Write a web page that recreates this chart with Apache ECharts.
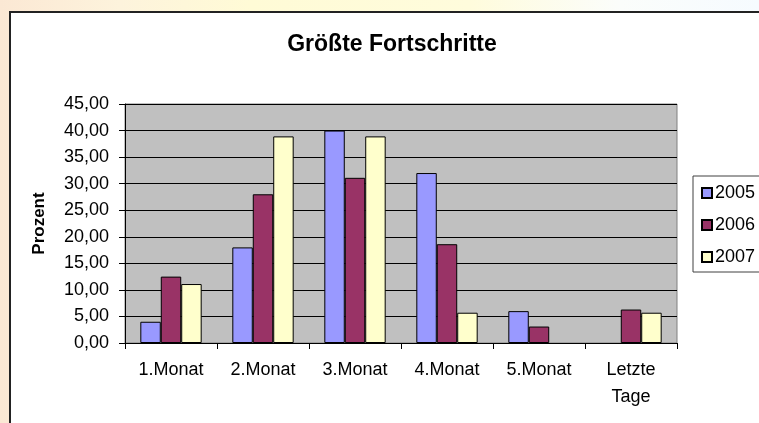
<!DOCTYPE html>
<html>
<head>
<meta charset="utf-8">
<script src="https://cdn.jsdelivr.net/npm/echarts@6/dist/echarts.min.js"></script>
<style>
  html, body { margin: 0; padding: 0; }
  body {
    width: 759px; height: 423px; overflow: hidden; position: relative;
    background: linear-gradient(to right, #fbe8d4 0px, #fdf3dc 120px, #fffbd6 250px, #fffcdc 470px, #fbfdfb 620px, #f6fbff 759px);
  }
  #frame {
    position: absolute; left: 9px; top: 11px; width: 760px; height: 420px;
    background: #fff; border-top: 2px solid #222; border-left: 2px solid #222;
  }
  #chart { position: absolute; left: 0; top: 0; width: 759px; height: 423px; }
</style>
</head>
<body>
<div id="frame"></div>
<div id="chart"></div>
<script>
  // Daten
  const categories = ['1.Monat', '2.Monat', '3.Monat', '4.Monat', '5.Monat', 'Letzte\nTage']
  const years = ['2005', '2006', '2007']
  const values2005 = [4.0, 18.0, 40.0, 32.0, 6.0, null]
  const values2006 = [12.5, 28.0, 31.1, 18.6, 3.1, 6.3]
  const values2007 = [11.1, 38.9, 38.9, 5.7, null, 5.7]
  const yMin = 0, yMax = 45, yStep = 5

  const colors = ['#9999ff', '#993366', '#ffffcc']
  const font = "'Liberation Sans', Arial, sans-serif"

  const chart = echarts.init(document.getElementById('chart'))

  const makeSeries = (name, data, i) => ({
    name: name,
    type: 'bar',
    data: data,
    barGap: '0%',
    barCategoryGap: '33.3%',
    itemStyle: { color: colors[i], borderColor: '#000', borderWidth: 1 },
    emphasis: { disabled: true },
    animation: false
  })

  chart.setOption({
    backgroundColor: 'transparent',
    title: {
      text: 'Größte Fortschritte',
      left: 387, top: 28, textAlign: 'center',
      textStyle: { fontFamily: font, fontSize: 23, fontWeight: 'bold', color: '#000' }
    },
    legend: {
      data: years,
      orient: 'vertical',
      left: 693, top: 176,
      padding: [8, 80, 6, 8],
      itemWidth: 10, itemHeight: 10,
      itemGap: 14,
      icon: 'rect',
      borderColor: '#404040', borderWidth: 1,
      backgroundColor: '#fff',
      textStyle: { fontFamily: font, fontSize: 18, color: '#000', padding: [0, 0, 0, -2] }
    },
    grid: {
      left: 125, top: 104, right: 82, bottom: 80,
      show: true, backgroundColor: '#c0c0c0', borderColor: '#808080', borderWidth: 1
    },
    xAxis: {
      type: 'category',
      data: categories,
      axisLine: { lineStyle: { color: '#000', width: 1 } },
      axisTick: { show: true, length: 6, lineStyle: { color: '#000' } },
      axisLabel: { fontFamily: font, fontSize: 18, color: '#000', margin: 14, lineHeight: 27, interval: 0 }
    },
    yAxis: {
      type: 'value',
      min: yMin, max: yMax, interval: yStep,
      name: 'Prozent',
      nameLocation: 'middle',
      nameGap: 77,
      nameTextStyle: { fontFamily: font, fontSize: 17, fontWeight: 'bold', color: '#000' },
      axisLine: { show: true, lineStyle: { color: '#000', width: 1 } },
      axisTick: { show: true, length: 6, lineStyle: { color: '#000' } },
      axisLabel: {
        fontFamily: font, fontSize: 18, color: '#000', margin: 16,
        formatter: v => v.toFixed(2).replace('.', ',')
      },
      splitLine: { lineStyle: { color: '#000', width: 1 } }
    },
    series: [
      makeSeries(years[0], values2005, 0),
      makeSeries(years[1], values2006, 1),
      makeSeries(years[2], values2007, 2)
    ]
  })
</script>
</body>
</html>
